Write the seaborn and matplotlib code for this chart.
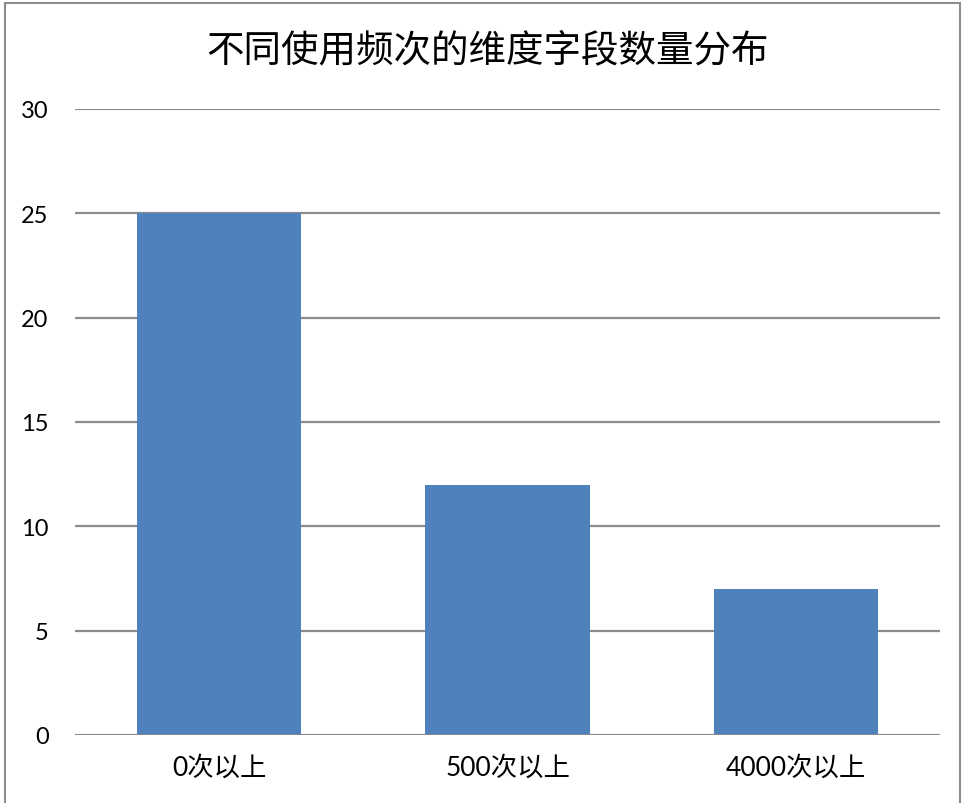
import matplotlib
matplotlib.use("Agg")
import matplotlib.pyplot as plt
import seaborn as sns
import pandas as pd
from matplotlib.patches import Rectangle

categories = ["0次以上", "500次以上", "4000次以上"]
counts = [25, 12, 7]
y_ticks = [0, 5, 10, 15, 20, 25, 30]
title = "不同使用频次的维度字段数量分布"

sns.set_theme(style="white")
plt.rcParams['font.family'] = ['Lato', 'Noto Sans CJK SC', 'DejaVu Sans']

df = pd.DataFrame({"cat": categories, "count": counts})

fig = plt.figure(figsize=(9.7, 8.04), dpi=100)
ax = fig.add_axes([0.0773, 0.0846, 0.8918, 0.7786])

sns.barplot(data=df, x="cat", y="count", color="#4F81BD", saturation=1,
            width=0.57, linewidth=0, ax=ax, zorder=3)

ax.set_ylim(0, 30)
ax.set_xlim(-0.5, 2.5)
ax.set_yticks(y_ticks)
for t in y_ticks:
    ax.axhline(t, color="#8C8C8C", lw=1.6, zorder=1)
ax.axhline(0, color="#8C8C8C", lw=2, zorder=4)

for s in ax.spines.values():
    s.set_visible(False)
ax.tick_params(axis="both", length=0, colors="#000000")
ax.tick_params(axis="y", pad=19, labelsize=17)
ax.tick_params(axis="x", pad=14, labelsize=19)
ax.set_xlabel("")
ax.set_ylabel("")

fig.text(0.503, 0.937, title, ha="center", va="center", fontsize=27,
         color="#000000", family=['Noto Sans CJK SC', 'DejaVu Sans'])

fig.patches.append(Rectangle((5 / 970, -0.01), 955 / 970, 1 - 4 / 804 + 0.01,
                             transform=fig.transFigure, fill=False,
                             edgecolor="#8C8C8C", lw=1.5))

fig.savefig("out.png", dpi=100)
